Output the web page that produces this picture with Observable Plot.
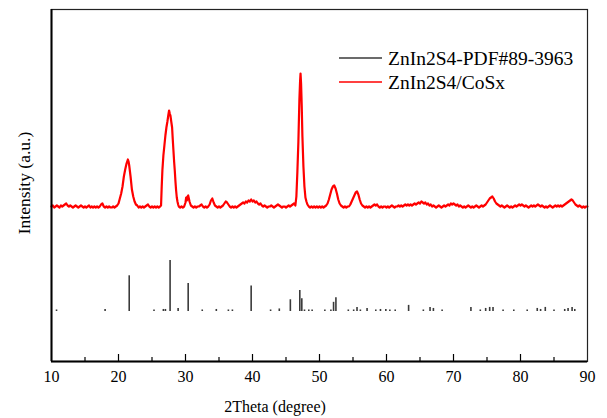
<!DOCTYPE html>
<html><head><meta charset="utf-8">
<script src="https://cdn.jsdelivr.net/npm/d3@7"></script>
<script src="https://cdn.jsdelivr.net/npm/@observablehq/plot@0.6"></script>
<style>
body{margin:0;background:#fff;}
svg{display:block;}
svg text, svg g{font-family:"Liberation Serif","Times New Roman",serif !important;}
</style>
</head><body><div id="chart"></div>
<script>
// ---- Data ----
const seriesNames = ["ZnIn2S4-PDF#89-3963", "ZnIn2S4/CoSx"];
const seriesColors = ["#3a3a3a", "#ff0000"];
const xTickLabels = [10, 20, 30, 40, 50, 60, 70, 80, 90];
const majorInnerTicks = [20, 30, 40, 50, 60, 70, 80];
const minorInnerTicks = [15, 25, 35, 45, 55, 65, 75, 85];
const xLabel = "2Theta (degree)";
const yLabel = "Intensity (a.u.)";

// measured pattern ZnIn2S4/CoSx: [2theta, intensity (a.u.)]
const xrdPattern = [
[10.0,155],[10.2,156],[10.4,154],[10.6,155],[10.8,156],[11.0,155],[11.2,154],[11.4,156],[11.6,155],[11.8,156],
[12.0,157],[12.2,158],[12.4,156],[12.6,155],[12.8,156],[13.0,155],[13.2,154],[13.4,155],[13.6,156],[13.8,155],
[14.0,154],[14.2,155],[14.4,156],[14.6,155],[14.8,154],[15.0,155],[15.2,154],[15.4,155],[15.6,156],[15.8,154],
[16.0,155],[16.2,154],[16.4,155],[16.6,154],[16.8,155],[17.0,154],[17.2,155],[17.4,157],[17.6,158],[17.8,155],
[18.0,154],[18.2,155],[18.4,154],[18.6,155],[18.8,154],[19.0,154],[19.2,155],[19.4,154],[19.6,155],[19.8,156],
[20.0,158],[20.2,163],[20.4,168],[20.6,175],[20.8,185],[21.0,192],[21.2,198],[21.4,202],[21.5,200],[21.6,196],
[21.8,185],[22.0,172],[22.2,165],[22.4,160],[22.6,157],[22.8,156],[23.0,154],[23.2,155],[23.4,154],[23.6,155],
[23.8,154],[24.0,155],[24.2,156],[24.4,157],[24.6,155],[24.8,154],[25.0,155],[25.2,154],[25.4,155],[25.6,154],
[25.8,155],[26.0,154],[26.2,155],[26.35,156],[26.45,175],[26.55,191],[26.7,206],[26.85,216],[27.0,226],[27.15,234],
[27.3,240],[27.45,247],[27.55,251],[27.65,248],[27.75,246],[27.85,241],[28.0,234],[28.1,222],[28.2,211],[28.3,200],
[28.4,191],[28.5,180],[28.6,171],[28.7,164],[28.8,160],[28.9,157],[29.0,155],[29.2,154],[29.4,155],[29.6,154],
[29.8,155],[30.0,159],[30.1,164],[30.2,161],[30.3,165],[30.4,166],[30.5,163],[30.6,160],[30.8,156],[31.0,155],
[31.2,154],[31.4,155],[31.6,154],[31.8,155],[32.0,155],[32.2,156],[32.4,157],[32.6,155],[32.8,154],[33.0,155],
[33.2,154],[33.4,155],[33.6,157],[33.8,161],[34.0,163],[34.2,159],[34.4,156],[34.6,155],[34.8,154],[35.0,155],
[35.2,154],[35.4,155],[35.6,156],[35.8,158],[36.0,160],[36.2,159],[36.4,157],[36.6,155],[36.8,154],[37.0,155],
[37.2,154],[37.4,155],[37.6,154],[37.8,155],[38.0,156],[38.2,157],[38.4,158],[38.6,159],[38.8,158],[39.0,160],
[39.2,159],[39.4,161],[39.6,160],[39.8,162],[40.0,160],[40.2,161],[40.4,159],[40.6,160],[40.8,158],[41.0,157],
[41.2,158],[41.4,156],[41.6,155],[41.8,156],[42.0,155],[42.2,154],[42.4,155],[42.6,155],[42.8,156],[43.0,155],
[43.2,154],[43.4,155],[43.6,156],[43.8,157],[44.0,156],[44.2,155],[44.4,154],[44.6,155],[44.8,155],[45.0,154],
[45.2,155],[45.4,156],[45.6,155],[45.8,156],[46.0,157],[46.2,158],[46.4,156],[46.55,165],[46.7,190],[46.85,220],
[47.0,262],[47.1,280],[47.17,288],[47.25,278],[47.35,255],[47.45,225],[47.6,195],[47.75,175],[47.9,164],[48.05,160],
[48.2,157],[48.4,155],[48.6,154],[48.8,155],[49.0,154],[49.2,155],[49.4,154],[49.6,155],[49.8,154],[50.0,155],
[50.2,154],[50.4,155],[50.6,154],[50.8,155],[51.0,156],[51.2,158],[51.4,162],[51.6,167],[51.8,172],[52.0,175],
[52.2,176],[52.4,173],[52.6,168],[52.8,162],[53.0,158],[53.2,156],[53.4,155],[53.6,154],[53.8,155],[54.0,154],
[54.2,155],[54.4,155],[54.6,157],[54.8,160],[55.0,163],[55.2,166],[55.4,169],[55.6,170],[55.8,167],[56.0,162],
[56.2,158],[56.4,156],[56.6,155],[56.8,154],[57.0,155],[57.2,154],[57.4,155],[57.6,154],[57.8,155],[58.0,156],
[58.2,157],[58.4,156],[58.6,157],[58.8,155],[59.0,154],[59.2,155],[59.4,154],[59.6,155],[59.8,155],[60.0,154],
[60.2,155],[60.4,154],[60.6,155],[60.8,156],[61.0,155],[61.2,154],[61.4,155],[61.6,155],[61.8,156],[62.0,155],
[62.2,156],[62.4,155],[62.6,156],[62.8,157],[63.0,156],[63.2,157],[63.4,156],[63.6,157],[63.8,156],[64.0,157],
[64.2,158],[64.4,157],[64.6,158],[64.8,159],[65.0,158],[65.2,160],[65.4,159],[65.6,158],[65.8,159],[66.0,157],
[66.2,158],[66.4,156],[66.6,157],[66.8,155],[67.0,156],[67.2,155],[67.4,154],[67.6,155],[67.8,156],[68.0,155],
[68.2,154],[68.4,155],[68.6,156],[68.8,155],[69.0,156],[69.2,157],[69.4,156],[69.6,158],[69.8,157],[70.0,158],
[70.2,157],[70.4,156],[70.6,157],[70.8,155],[71.0,156],[71.2,155],[71.4,154],[71.6,155],[71.8,154],[72.0,155],
[72.2,156],[72.4,155],[72.6,154],[72.8,155],[73.0,154],[73.2,155],[73.4,156],[73.6,155],[73.8,154],[74.0,155],
[74.2,156],[74.4,155],[74.6,156],[74.8,157],[75.0,159],[75.2,161],[75.4,163],[75.6,164],[75.8,165],[76.0,163],
[76.2,160],[76.4,158],[76.6,157],[76.8,156],[77.0,155],[77.2,156],[77.4,155],[77.6,154],[77.8,155],[78.0,156],
[78.2,155],[78.4,154],[78.6,155],[78.8,154],[79.0,155],[79.2,156],[79.4,155],[79.6,156],[79.8,157],[80.0,156],
[80.2,157],[80.4,156],[80.6,155],[80.8,156],[81.0,155],[81.2,154],[81.4,155],[81.6,156],[81.8,155],[82.0,156],
[82.2,155],[82.4,156],[82.6,157],[82.8,156],[83.0,155],[83.2,156],[83.4,155],[83.6,154],[83.8,155],[84.0,154],
[84.2,155],[84.4,156],[84.6,155],[84.8,154],[85.0,155],[85.2,156],[85.4,155],[85.6,156],[85.8,155],[86.0,156],
[86.2,155],[86.4,156],[86.6,157],[86.8,158],[87.0,159],[87.2,160],[87.4,161],[87.6,162],[87.8,161],[88.0,159],
[88.2,157],[88.4,156],[88.6,155],[88.8,156],[89.0,155],[89.2,154],[89.4,155],[89.6,154],[89.8,155],[90.0,155]
];

// reference card ZnIn2S4 PDF#89-3963: [2theta, relative intensity %]
const pdfSticks = [
[10.75,3],[18.0,4],[21.6,70],[25.3,3],[26.7,4],[27.0,4],[27.7,100],[28.9,6],[30.4,55],[32.5,3],
[34.6,4],[36.4,3],[37.0,3],[39.8,50],[42.7,3],[44.0,5],[45.65,23],[47.06,41],[47.36,25],[47.76,3],
[48.4,3],[48.9,3],[50.8,3],[51.7,3],[52.1,18],[52.45,27],[54.3,3],[55.1,3],[55.6,8],[56.1,3],
[57.1,6],[58.4,3],[59.1,4],[59.9,4],[60.5,3],[61.3,3],[63.3,12],[65.5,3],[66.5,8],[67.0,6],
[68.3,3],[72.6,8],[74.0,3],[74.8,6],[75.4,8],[75.9,8],[77.4,3],[79.0,3],[81.0,3],[82.5,6],
[83.0,4],[83.7,8],[85.0,3],[86.6,4],[87.1,6],[87.7,8],[88.1,4]
];

// ---- Layout ----
const W = 607, H = 418;
const FONT = "'Liberation Serif','Times New Roman',serif";
const STICK_BASE = 50;     // offset of the stick pattern (a.u.)
const STICK_SCALE = 0.51;  // a.u. per % relative intensity

const xrd = xrdPattern.map(([a, i]) => ({a, i}));
const sticks = pdfSticks.map(([a, r]) => ({a, y1: STICK_BASE, y2: STICK_BASE + r * STICK_SCALE}));

const plot = Plot.plot({
  width: W, height: H,
  marginLeft: 51, marginRight: 20, marginTop: 9, marginBottom: 57,
  style: {background: "#fff", color: "#000", fontSize: "16px", fontFamily: FONT},
  x: {domain: [10, 90]},
  y: {domain: [0, 352], axis: null},
  marks: [
    Plot.ruleX(sticks, {x: "a", y1: "y1", y2: "y2", stroke: seriesColors[0], strokeWidth: 1.6}),
    Plot.line(xrd, {x: "a", y: "i", stroke: seriesColors[1], strokeWidth: 2.2}),
    Plot.ruleX(majorInnerTicks, {x: d => d, y1: 0, y2: 7, stroke: "#000", strokeWidth: 1.2}),
    Plot.ruleX(minorInnerTicks, {x: d => d, y1: 0, y2: 4, stroke: "#000", strokeWidth: 1.2}),
    Plot.frame({stroke: "#222", strokeWidth: 1.2}),
    Plot.ruleX([10], {stroke: "#000", strokeWidth: 2}),
    Plot.ruleY([0], {stroke: "#000", strokeWidth: 2}),
    Plot.axisX({ticks: xTickLabels, tickSize: 0, tickPadding: 9, fontSize: 16, fontFamily: FONT, fontVariant: "normal", fill: "#000", tickFormat: d => String(d), label: null})
  ]
});

const svg = d3.select(plot);
svg.selectAll("text").attr("font-family", FONT).style("font-family", FONT);
svg.append("text")
  .attr("x", 275).attr("y", 412).attr("text-anchor", "middle").attr("font-family", FONT)
  .attr("font-size", 16).attr("fill", "#000").text(xLabel);
svg.append("text")
  .attr("transform", "translate(30,183) rotate(-90)").attr("text-anchor", "middle").attr("font-family", FONT)
  .attr("font-size", 17.5).attr("fill", "#000").text(yLabel);

const leg = svg.append("g");
seriesNames.forEach((name, k) => {
  const y = 58 + k * 24;
  leg.append("line").attr("x1", 339).attr("x2", 382).attr("y1", y).attr("y2", y)
    .attr("stroke", seriesColors[k]).attr("stroke-width", 1.6);
  leg.append("text").attr("x", 388).attr("y", y + 7).attr("font-size", 19.5).attr("font-family", FONT)
    .attr("text-anchor", "start").attr("fill", "#000").text(name);
});

document.getElementById("chart").appendChild(plot);
</script>
</body></html>
